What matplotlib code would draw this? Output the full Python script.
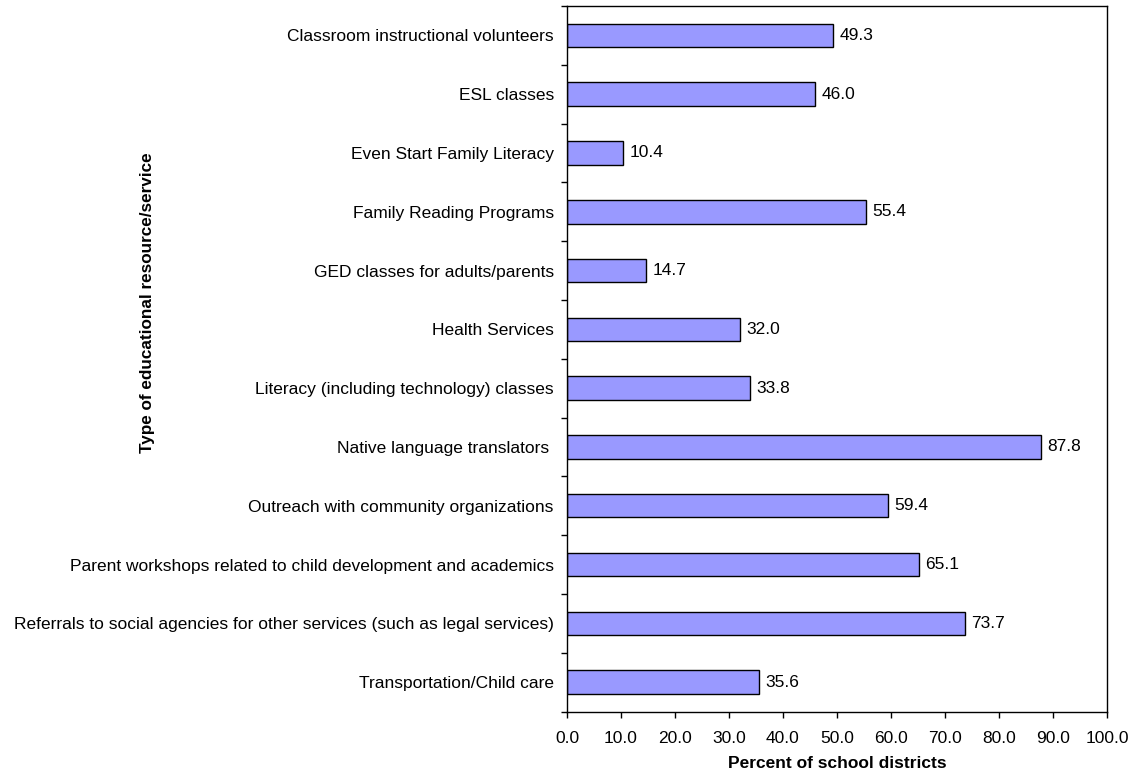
import matplotlib
matplotlib.use("Agg")
import matplotlib.pyplot as plt
import numpy as np

categories = [
    "Classroom instructional volunteers",
    "ESL classes",
    "Even Start Family Literacy",
    "Family Reading Programs",
    "GED classes for adults/parents",
    "Health Services",
    "Literacy (including technology) classes",
    "Native language translators ",
    "Outreach with community organizations",
    "Parent workshops related to child development and academics",
    "Referrals to social agencies for other services (such as legal services)",
    "Transportation/Child care",
]
values = [49.3, 46.0, 10.4, 55.4, 14.7, 32.0, 33.8, 87.8, 59.4, 65.1, 73.7, 35.6]
x_ticks = [0, 10, 20, 30, 40, 50, 60, 70, 80, 90, 100]

plt.rcParams["font.family"] = ["Liberation Sans", "DejaVu Sans"]
plt.rcParams["font.size"] = 12.5

W, H = 1133, 778
fig = plt.figure(figsize=(W / 100, H / 100), dpi=100)
ax = fig.add_axes([567 / W, 1 - 711.5 / H, 540 / W, 705.5 / H])

n = len(categories)
pos = np.arange(n)
ax.barh(pos, values, height=0.40, color="#9999FF", edgecolor="black", linewidth=1.0)
for p, v in zip(pos, values):
    ax.text(v + 1.2, p, f"{v:.1f}", va="center", ha="left", fontsize=12.5)

ax.set_ylim(n - 0.5, -0.5)
ax.set_xlim(0, 100)
ax.set_yticks(pos)
ax.set_yticklabels(categories)
ax.tick_params(axis="y", which="major", length=0, pad=9.5)
ax.set_yticks(np.arange(n + 1) - 0.5, minor=True)
ax.tick_params(axis="y", which="minor", length=4, direction="out", width=1)
ax.set_xticks(x_ticks)
ax.set_xticklabels([f"{t:.1f}" for t in x_ticks])
ax.tick_params(axis="x", length=4, direction="out", width=1, pad=10)

for s in ax.spines.values():
    s.set_linewidth(1.0)

ax.set_xlabel("Percent of school districts", fontweight="bold", labelpad=7)
fig.text(147 / W, 1 - 303 / H, "Type of educational resource/service",
         rotation=90, ha="center", va="center", fontweight="bold", fontsize=12.3)

fig.savefig("out.png", dpi=100)
